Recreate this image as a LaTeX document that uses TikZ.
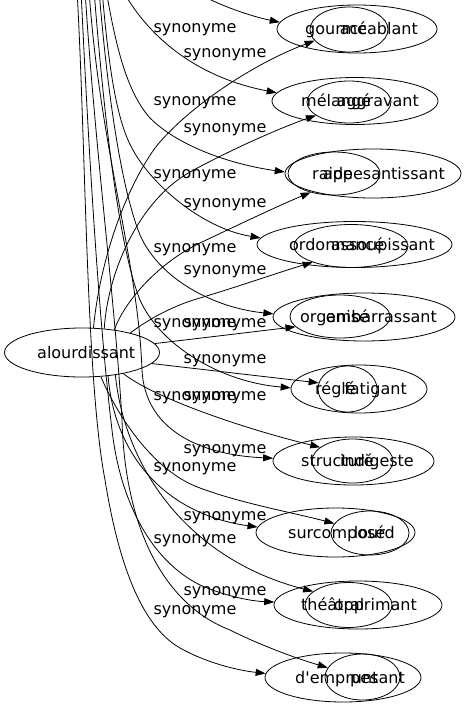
\documentclass[tikz,border=0pt]{standalone}
\usepackage{fontspec}
\newfontfamily\dvsans{DejaVu Sans}
\usetikzlibrary{shapes.geometric,arrows.meta}
\begin{document}
\begin{tikzpicture}[x=1pt,y=-1pt,
  ell/.style={draw, ellipse, inner sep=0pt, line width=0.8pt},
  word/.style={inner sep=0pt, font=\dvsans\fontsize{16}{19}\selectfont},
  wl/.style={word, anchor=base west},
  wr/.style={word, anchor=base east},
  lab/.style={word, anchor=base},
  edge/.style={line width=0.8pt, -{Triangle[length=10pt,width=7pt]}}]
\useasboundingbox (0,0) rectangle (467,707);
\clip (0,0) rectangle (467,707);
% main node
\node[ell, minimum width=155pt, minimum height=49pt] (alo) at (82,352.5) {};
\node[wl] (aloT) at (37,358) {alourdissant};
% ellipses
\node[ell, minimum width=160pt, minimum height=48pt] (e1w) at (357,29) {};
\node[ell, minimum width=78pt,  minimum height=45pt] (e1n) at (349,29.5) {};
\node[ell, minimum width=166pt, minimum height=47pt] (e2w) at (355,101) {};
\node[ell, minimum width=84pt,  minimum height=42pt] (e2n) at (349,102) {};
\node[ell, minimum width=176pt, minimum height=49pt] (e3w) at (373,173.5) {};
\node[ell, minimum width=92pt,  minimum height=43pt] (e3n) at (334,173.5) {};
\node[ell, minimum width=195pt, minimum height=46pt] (e4w) at (354.5,244.5) {};
\node[ell, minimum width=114pt, minimum height=43pt] (e4n) at (351,246) {};
\node[ell, minimum width=182pt, minimum height=48pt] (e5w) at (364,317) {};
\node[ell, minimum width=100pt, minimum height=43pt] (e5n) at (340,316.5) {};
\node[ell, minimum width=136pt, minimum height=48pt] (e6w) at (359,389) {};
\node[ell, minimum width=59pt,  minimum height=46pt] (e6n) at (347.5,389) {};
\node[ell, minimum width=161pt, minimum height=48pt] (e7w) at (353.5,461) {};
\node[ell, minimum width=81pt,  minimum height=44pt] (e7n) at (352.5,461) {};
\node[ell, minimum width=159pt, minimum height=49pt] (e8w) at (335.5,532.5) {};
\node[ell, minimum width=78pt,  minimum height=44pt] (e8n) at (370,533) {};
\node[ell, minimum width=168pt, minimum height=48pt] (e9w) at (358,605) {};
\node[ell, minimum width=87pt,  minimum height=45pt] (e9n) at (348.5,605) {};
\node[ell, minimum width=156pt, minimum height=49pt] (e10w) at (343,677.5) {};
\node[ell, minimum width=75pt,  minimum height=46pt] (e10n) at (362.5,677) {};
% words
\node[wl] (gourme) at (305,34.5) {gourmé};
\node[wr] (accablant) at (418,34.5) {accablant};
\node[wl] (melange) at (301,106.5) {mélangé};
\node[wr] (aggravant) at (419,106.5) {aggravant};
\node[wl] (raide) at (312,179) {raide};
\node[wr] (appesantissant) at (445,179) {appesantissant};
\node[wl] (ordonnance) at (289,250) {ordonnancé};
\node[wr] (assoupissant) at (435,250) {assoupissant};
\node[wl] (organise) at (300,322.5) {organisé};
\node[wr] (embarrassant) at (437,322.5) {embarrassant};
\node[wl] (regle) at (315,394.5) {réglé};
\node[wr] (fatigant) at (407,394.5) {fatigant};
\node[wl] (structure) at (301,466.5) {structuré};
\node[wr] (indigeste) at (414,466.5) {indigeste};
\node[wl] (surcompose) at (288,538) {surcomposé};
\node[wr] (lourd) at (395,538) {lourd};
\node[wl] (theatral) at (301,610.5) {théâtral};
\node[wr] (opprimant) at (417,610.5) {opprimant};
\node[wl] (demprunt) at (295,683) {d'emprunt};
\node[wr] (pesant) at (405,683) {pesant};
% edge labels
\node[lab] (l1) at (195,32) {synonyme};
\node[lab] (l2) at (225,57) {synonyme};
\node[lab] (l3) at (195,105) {synonyme};
\node[lab] (l4) at (225,132) {synonyme};
\node[lab] (l5) at (195,178) {synonyme};
\node[lab] (l6) at (225,207) {synonyme};
\node[lab] (l7) at (195,252) {synonyme};
\node[lab] (l8) at (225,274) {synonyme};
\node[lab] (l9) at (195,327) {synonyme};
\node[lab] (l10) at (225,327) {synonyme};
\node[lab] (l11) at (225,363) {synonyme};
\node[lab] (l12) at (195,400) {synonyme};
\node[lab] (l13) at (225,400) {synonyme};
\node[lab] (l14) at (225,453) {synonyme};
\node[lab] (l15) at (195,471) {synonyme};
\node[lab] (l16) at (225,520) {synonyme};
\node[lab] (l17) at (195,543) {synonyme};
\node[lab] (l18) at (225,595) {synonyme};
\node[lab] (l19) at (195,614) {synonyme};
% free ends above the picture
\coordinate (tT) at (77,-10);
\coordinate (tR) at (81,-10);
\coordinate (tS) at (85,-10);
\coordinate (tN) at (89,-10);
\coordinate (tL) at (94,-10);
\coordinate (tI) at (99,-10);
\coordinate (tG) at (102,-10);
\coordinate (tE) at (106,-10);
\coordinate (tC) at (120,-15);
\coordinate (tA) at (185,-15);
% connectors coming from above
\draw[edge] (tA) .. controls (205,0) and (245,15) .. (e1w.175.7);
\draw[edge] (tC) .. controls (140,25) and (185,75) .. (e2w.174.7);
\draw[edge] (tE) .. controls (115,40) and (125,90) .. (150,118) .. controls (180,148) and (235,165) .. (e3w.179);
\draw[edge] (tG) .. controls (108,60) and (115,110) .. (128,140) .. controls (145,180) and (200,228) .. (e4w.176);
\draw[edge] (tI) .. controls (108,100) and (122,190) .. (140,235) .. controls (160,280) and (215,308) .. (e5w.178);
\draw[edge] (tL) .. controls (105,130) and (120,250) .. (140,300) .. controls (160,345) and (220,382) .. (e6w.179);
\draw[edge] (tN) .. controls (100,150) and (138,260) .. (142,370) .. controls (145,430) and (200,455) .. (e7w.178);
\draw[edge] (tR) .. controls (90,180) and (100,330) .. (112,430) .. controls (120,500) and (150,560) .. (200,585) .. controls (225,596) and (250,601) .. (e9w.178.5);
\draw[edge] (tS) .. controls (95,150) and (115,300) .. (122,420) .. controls (125,530) and (165,605) .. (230,630) .. controls (260,645) and (295,658) .. (e10n.165);
\draw[edge] (tT) .. controls (86,150) and (86,380) .. (105,480) .. controls (118,560) and (140,625) .. (180,648) .. controls (205,662) and (235,670) .. (e10w.177);
% connectors from alourdissant
\draw[edge] (alo.65) .. controls (100,260) and (125,190) .. (155,148) .. controls (185,110) and (250,65) .. (e1n.198);
\draw[edge] (alo.47) .. controls (108,270) and (140,200) .. (190,172) .. controls (230,150) and (280,128) .. (e2n.202);
\draw[edge] (alo.35) .. controls (125,300) and (160,262) .. (200,243) .. controls (240,224) and (280,205) .. (e3n.219);
\draw[edge] (alo.22) .. controls (150,318) and (175,305) .. (200,298) .. controls (240,286) and (280,272) .. (e4n.203);
\draw[edge] (alo.7) -- (e5n.193);
\draw[edge] (alo.351) -- (e6n.168.5);
\draw[edge] (alo.333) .. controls (150,395) and (230,425) .. (e7n.157);
\draw[edge] (alo.308) .. controls (115,410) and (150,470) .. (200,488) .. controls (240,503) and (290,512) .. (e8n.165);
\draw[edge] (alo.318) .. controls (115,460) and (170,515) .. (e8w.176);
\draw[edge] (alo.326) .. controls (125,470) and (190,560) .. (e9n.159);
\end{tikzpicture}
\end{document}
